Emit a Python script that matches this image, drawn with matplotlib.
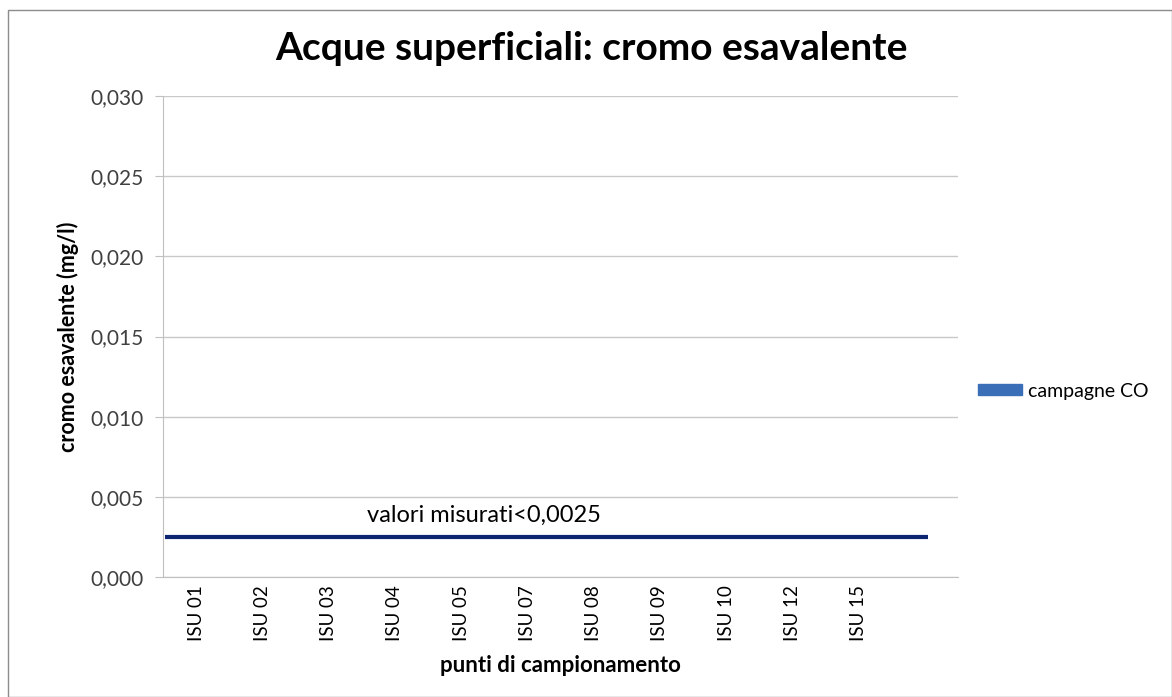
import numpy as np
import matplotlib
matplotlib.use("Agg")
import matplotlib.pyplot as plt
from matplotlib.patches import Rectangle

plt.rcParams['font.family'] = ['Lato', 'DejaVu Sans']

# data
punti = ['ISU 01', 'ISU 02', 'ISU 03', 'ISU 04', 'ISU 05', 'ISU 07',
         'ISU 08', 'ISU 09', 'ISU 10', 'ISU 12', 'ISU 15', '']
campagne_co = [0, 0, 0, 0, 0, 0, 0, 0, 0, 0, 0, 0]
soglia = 0.0025
y_ticks = [0.000, 0.005, 0.010, 0.015, 0.020, 0.025, 0.030]

fig = plt.figure(figsize=(11.72, 6.97), dpi=100)
ax = fig.add_axes([163/1172, 1-577/697, (958-163)/1172, (577-96)/697])

x = np.arange(len(punti))
ax.bar(x, campagne_co, width=0.6, color='#3a6fb8', label='campagne CO')
ax.set_xlim(-0.5, len(punti)-0.5)
ax.set_ylim(0, 0.030)

# horizontal line for values below detection limit
ax.hlines(soglia, -0.47, 11.05, color='#0d2470', lw=3, zorder=3)
ax.text(4.35, soglia + 0.0007, 'valori misurati<0,0025', fontsize=17,
        ha='center', va='bottom', color='black')

ax.set_yticks(y_ticks)
ax.set_yticklabels([('%.3f' % v).replace('.', ',') for v in y_ticks], fontsize=15, color='#404040')
ax.set_xticks(x)
ax.set_xticklabels(punti, rotation=90, fontsize=13.5)
ax.tick_params(axis='y', length=6, color='#bfbfbf', pad=8)
ax.tick_params(axis='x', length=0, pad=6)
ax.grid(axis='y', color='#c8c8c8', lw=1)
ax.set_axisbelow(True)
for s in ['top', 'right']:
    ax.spines[s].set_visible(False)
ax.spines['left'].set_color('#bfbfbf')
ax.spines['bottom'].set_color('#bfbfbf')

ax.set_ylabel('cromo esavalente (mg/l)', fontsize=15.5, fontweight='bold', labelpad=8)
ax.set_xlabel('punti di campionamento', fontsize=16, fontweight='bold', va='center')
ax.xaxis.set_label_coords(0.5, -(665-577)/481)
fig.text(591/1172, 1-48/697, 'Acque superficiali: cromo esavalente', fontsize=28,
         fontweight='bold', ha='center', va='center')

# legend at the right
leg = fig.legend(handles=[Rectangle((0, 0), 1, 1, color='#3a6fb8')], labels=['campagne CO'],
                 loc='center left', bbox_to_anchor=(960/1172, 1-391/697), frameon=False,
                 fontsize=14, handlelength=2.3, handleheight=0.45, handletextpad=0.3)

# outer border
fig.add_artist(Rectangle((8/1172, 0), 1-8/1172, 1-10/697, transform=fig.transFigure,
                         fill=False, edgecolor='#8c8c8c', lw=1))

fig.savefig('out.png', dpi=100)
